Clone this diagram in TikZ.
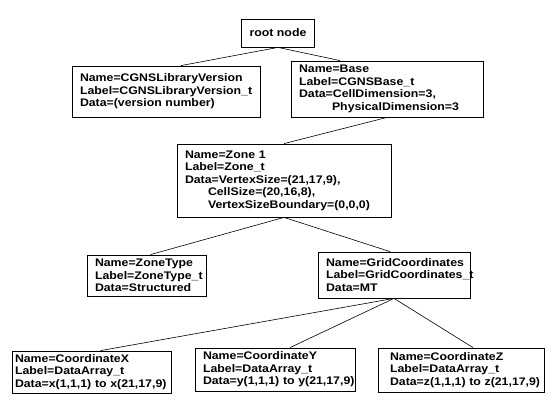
\documentclass[tikz,border=0pt]{standalone}
\usepackage{fontspec}
\setmainfont{Liberation Sans}[FakeStretch=1.12]
\tikzset{
  box/.style={draw, line width=0.8pt, inner xsep=#1, inner ysep=0pt, align=left,
    font=\bfseries\fontsize{11}{12.5}\selectfont},
  box/.default=8pt,
  edge/.style={line width=0.6pt}
}
\begin{document}
\begin{tikzpicture}[x=1pt,y=-1pt]
\useasboundingbox (0,0) rectangle (548,403);
\node[box, align=center, minimum width=70pt, minimum height=28pt] (root) at (278,33) {root node};
\node[box, minimum width=188pt, minimum height=51pt, text width=172pt] (lib) at (166,91.5)
  {Name=CGNSLibraryVersion\\Label=CGNSLibraryVersion\_t\\\mbox{Data=(version number)}};
\node[box, minimum width=192pt, minimum height=56pt, text width=176pt] (base) at (387,89)
  {Name=Base\\Label=CGNSBase\_t\\Data=CellDimension=3,\\\hspace*{33pt}PhysicalDimension=3};
\node[box, minimum width=214pt, minimum height=73pt, text width=198pt] (zone) at (284,180.5)
  {Name=Zone 1\\Label=Zone\_t\\Data=VertexSize=(21,17,9),\\\hspace*{23pt}CellSize=(20,16,8),\\\hspace*{23pt}VertexSizeBoundary=(0,0,0)};
\node[box, minimum width=119pt, minimum height=41pt, text width=103pt] (ztype) at (146.5,275.5)
  {Name=ZoneType\\Label=ZoneType\_t\\Data=Structured};
\node[box, minimum width=152pt, minimum height=46pt, text width=136pt] (grid) at (394,275)
  {Name=GridCoordinates\\Label=GridCoordinates\_t\\Data=MT};
\node[box=3pt, minimum width=159pt, minimum height=42pt, text width=153pt] (cx) at (91.5,372)
  {Name=CoordinateX\\Label=DataArray\_t\\\mbox{Data=x(1,1,1) to x(21,17,9)}};
\node[box, minimum width=160pt, minimum height=43pt, text width=144pt] (cy) at (275,369.5)
  {Name=CoordinateY\\Label=DataArray\_t\\\mbox{Data=y(1,1,1) to y(21,17,9)}};
\node[box=12pt, minimum width=166pt, minimum height=44pt, text width=142pt] (cz) at (461,370)
  {Name=CoordinateZ\\Label=DataArray\_t\\\mbox{Data=z(1,1,1) to z(21,17,9)}};
\draw[edge] (root.south) -- ([xshift=15pt]lib.north);
\draw[edge] (root.south) -- ([xshift=-47pt]base.north);
\draw[edge] (base.south) -- (zone.north);
\draw[edge] (zone.south) -- ([xshift=4pt]ztype.north);
\draw[edge] (zone.south) -- ([xshift=-4pt]grid.north);
\draw[edge] (grid.south) -- ([xshift=9pt]cx.north);
\draw[edge] (grid.south) -- ([xshift=15pt]cy.north);
\draw[edge] (grid.south) -- ([xshift=12pt]cz.north);
\end{tikzpicture}
\end{document}
